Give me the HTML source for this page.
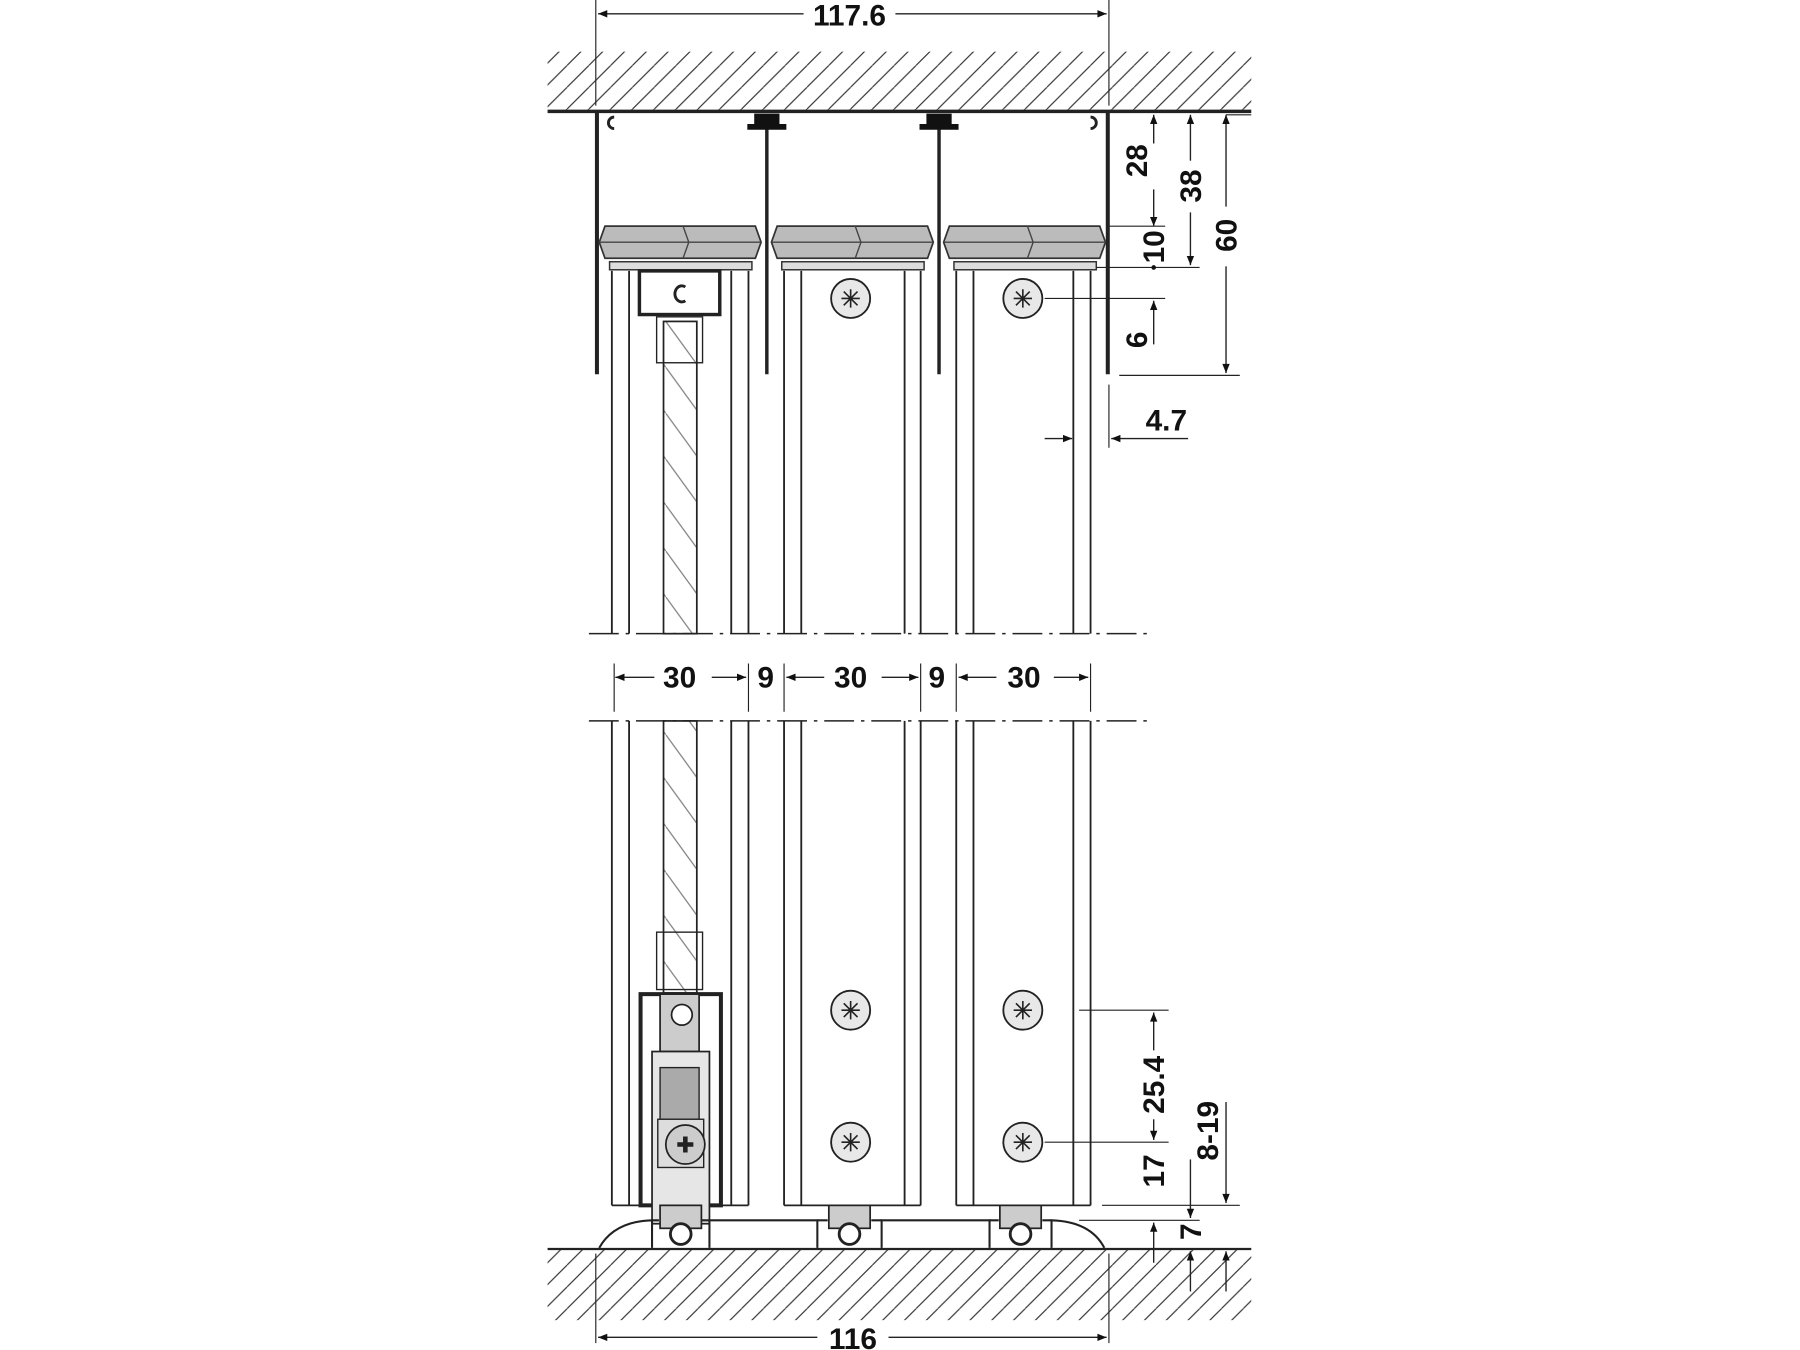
<!DOCTYPE html>
<html><head><meta charset="utf-8"><style>html,body{margin:0;padding:0;background:#fff}svg{display:block}</style></head><body>
<svg width="1800" height="1350" viewBox="0 0 1568 1176" preserveAspectRatio="none" xmlns="http://www.w3.org/2000/svg" font-family="Liberation Sans, Arial, sans-serif" font-weight="bold" font-size="26" fill="none" stroke="#222">
<defs>
<pattern id="h" width="19" height="19" patternUnits="userSpaceOnUse">
<line x1="0" y1="19" x2="19" y2="0" stroke="#333" stroke-width="1"/>
<line x1="-19" y1="19" x2="0" y2="0" stroke="#333" stroke-width="1"/>
<line x1="19" y1="19" x2="38" y2="0" stroke="#333" stroke-width="1"/>
</pattern>
<pattern id="g" width="29" height="40" patternUnits="userSpaceOnUse">
<line x1="0" y1="0" x2="29" y2="40" stroke="#777" stroke-width="1"/>
</pattern>
<marker id="a" viewBox="0 0 10 10" refX="10" refY="5" markerWidth="20" markerHeight="8" markerUnits="userSpaceOnUse" orient="auto"><path d="M0,1 L10,5 L0,9 Z" fill="#111" stroke="none"/></marker>
</defs>
<rect x="477" y="45" width="613" height="52" fill="url(#h)" stroke="none"/>
<line x1="477" y1="97" x2="1090" y2="97" stroke-width="3"/>
<rect x="477" y="1088" width="613" height="62" fill="url(#h)" stroke="none"/>
<line x1="477" y1="1088" x2="1090" y2="1088" stroke-width="2"/>
<line x1="519" y1="0" x2="519" y2="92" stroke-width="1"/>
<line x1="966" y1="0" x2="966" y2="92" stroke-width="1"/>
<line x1="700" y1="12" x2="521" y2="12" stroke-width="1.2" marker-end="url(#a)"/>
<line x1="780" y1="12" x2="964" y2="12" stroke-width="1.2" marker-end="url(#a)"/>
<text x="740" y="22" text-anchor="middle" fill="#111" stroke="none">117.6</text>
<line x1="519" y1="1092" x2="519" y2="1170" stroke-width="1"/>
<line x1="966" y1="1092" x2="966" y2="1170" stroke-width="1"/>
<line x1="712" y1="1165" x2="521" y2="1165" stroke-width="1.2" marker-end="url(#a)"/>
<line x1="774" y1="1165" x2="964" y2="1165" stroke-width="1.2" marker-end="url(#a)"/>
<text x="743" y="1175" text-anchor="middle" fill="#111" stroke="none">116</text>
<g stroke-width="3.5">
<line x1="520" y1="98" x2="520" y2="326"/><line x1="965" y1="98" x2="965" y2="326"/>
<line x1="668" y1="112" x2="668" y2="326" stroke-width="3"/><line x1="818" y1="112" x2="818" y2="326" stroke-width="3"/>
</g>
<path d="M657,99 h22 v9 h6 v5 h-34 v-5 h6z" fill="#111" stroke="none"/>
<path d="M807,99 h22 v9 h6 v5 h-34 v-5 h6z" fill="#111" stroke="none"/>
<path d="M535,102 a5,5 0 1 0 0,10" stroke-width="2.5"/><path d="M950,102 a5,5 0 1 1 0,10" stroke-width="2.5"/>
<g fill="#bbb" stroke="#333" stroke-width="1.5">
<path d="M527,197 H658 L663,211 L658,225 H527 L522,211 Z"/>
<path d="M677,197 H808 L813,211 L808,225 H677 L672,211 Z"/>
<path d="M827,197 H958 L963,211 L958,225 H827 L822,211 Z"/>
</g>
<g stroke="#444" stroke-width="1.2">
<path d="M522,211 H663 M595,197 L600,211 L595,225 M672,211 H813 M745,197 L750,211 L745,225 M822,211 H963 M895,197 L900,211 L895,225"/>
</g>
<g fill="#ddd" stroke="#333" stroke-width="1.3">
<rect x="531" y="228" width="124" height="7"/><rect x="681" y="228" width="124" height="7"/><rect x="831" y="228" width="124" height="7"/>
</g>
<g stroke-width="1.6">
<path d="M533,236V552 M548,236V552 M637,236V552 M652,236V552 M683,236V552 M698,236V552 M788,236V552 M802,236V552 M833,236V552 M848,236V552 M935,236V552 M950,236V552"/>
<path d="M533,628V1050 M548,628V1050 M637,628V1050 M652,628V1050 M683,628V1050 M698,628V1050 M788,628V1050 M802,628V1050 M833,628V1050 M848,628V1050 M935,628V1050 M950,628V1050"/>
<path d="M533,1050H652 M683,1050H802 M833,1050H950"/>
</g>
<rect x="578" y="280" width="29" height="272" fill="url(#g)" stroke-width="1.5"/>
<rect x="578" y="628" width="29" height="237" fill="url(#g)" stroke-width="1.5"/>
<rect x="557" y="236" width="70" height="38" fill="#fff" stroke-width="3"/>
<path d="M597,250 a6,7 0 1 0 0,12" stroke-width="2.5"/>
<rect x="572" y="276" width="40" height="40" fill="none" stroke-width="1.2"/>
<rect x="572" y="812" width="40" height="50" fill="none" stroke-width="1.2"/>
<rect x="558" y="866" width="70" height="184" fill="none" stroke-width="3.5"/>
<rect x="575" y="866" width="34" height="50" fill="#ccc" stroke-width="1.5"/>
<circle cx="594" cy="884" r="9" fill="#fff" stroke-width="1.5"/>
<rect x="568" y="916" width="50" height="150" fill="#e6e6e6" stroke-width="1.5"/>
<rect x="575" y="930" width="34" height="45" fill="#aaa" stroke-width="1.2"/>
<rect x="573" y="975" width="40" height="42" fill="#ddd" stroke-width="1.2"/>
<circle cx="597" cy="997" r="17" fill="#ccc" stroke-width="1.5"/>
<path d="M590,997h14M597,990v14" stroke-width="4"/>
<g fill="#ccc" stroke-width="1.5">
<rect x="575" y="1050" width="36" height="20"/><rect x="722" y="1050" width="36" height="20"/><rect x="871" y="1050" width="36" height="20"/>
</g>
<g stroke-width="2.5" fill="#fff">
<circle cx="593" cy="1075" r="9"/><circle cx="740" cy="1075" r="9"/><circle cx="889" cy="1075" r="9"/>
</g>
<g stroke-width="1.8">
<path d="M522,1087 Q535,1064 568,1063 V1087"/>
<path d="M962,1087 Q950,1064 916,1063 V1087"/>
<path d="M618,1087 V1063 H712 V1087 M768,1087 V1063 H862 V1087"/>
<path d="M568,1063 H574 M611,1063 H618 M712,1063 H721 M759,1063 H768 M862,1063 H870 M908,1063 H916"/>
</g>
<g fill="#e8e8e8" stroke-width="1.6">
<circle cx="741" cy="260" r="17"/><circle cx="891" cy="260" r="17"/><circle cx="741" cy="880" r="17"/><circle cx="891" cy="880" r="17"/><circle cx="741" cy="995" r="17"/><circle cx="891" cy="995" r="17"/>
</g>
<g stroke-width="1.4">
<path d="M733,260h16M741,252v16M735,254l12,12M747,254l-12,12"/>
<path d="M883,260h16M891,252v16M885,254l12,12M897,254l-12,12"/>
<path d="M733,880h16M741,872v16M735,874l12,12M747,874l-12,12"/>
<path d="M883,880h16M891,872v16M885,874l12,12M897,874l-12,12"/>
<path d="M733,995h16M741,987v16M735,989l12,12M747,989l-12,12"/>
<path d="M883,995h16M891,987v16M885,989l12,12M897,989l-12,12"/>
</g>
<g stroke-width="1.3" stroke-dasharray="26,6,3,6">
<line x1="513" y1="552" x2="1005" y2="552"/><line x1="513" y1="628" x2="1005" y2="628"/>
</g>
<g stroke-width="1">
<path d="M535,578V620 M652,578V620 M683,578V620 M802,578V620 M833,578V620 M950,578V620"/>
</g>
<g stroke-width="1.2">
<line x1="570" y1="590" x2="536" y2="590" marker-end="url(#a)"/><line x1="620" y1="590" x2="650" y2="590" marker-end="url(#a)"/>
<line x1="718" y1="590" x2="685" y2="590" marker-end="url(#a)"/><line x1="768" y1="590" x2="800" y2="590" marker-end="url(#a)"/>
<line x1="868" y1="590" x2="835" y2="590" marker-end="url(#a)"/><line x1="918" y1="590" x2="948" y2="590" marker-end="url(#a)"/>
</g>
<g fill="#111" stroke="none" text-anchor="middle">
<text x="592" y="599">30</text><text x="667" y="599">9</text><text x="741" y="599">30</text><text x="816" y="599">9</text><text x="892" y="599">30</text>
</g>
<g stroke-width="1">
<path d="M966,197H1015 M955,233H1045 M975,327H1080 M910,260H1015 M966,335V390 M1068,100H1090"/>
<path d="M940,880H1018 M910,995H1018 M940,1063H1045 M960,1050H1080"/>
</g>
<g stroke-width="1.2">
<line x1="1005" y1="125" x2="1005" y2="100" marker-end="url(#a)"/><line x1="1005" y1="165" x2="1005" y2="197" marker-end="url(#a)"/>
<line x1="1037" y1="140" x2="1037" y2="100" marker-end="url(#a)"/><line x1="1037" y1="185" x2="1037" y2="231" marker-end="url(#a)"/>
<line x1="1068" y1="180" x2="1068" y2="100" marker-end="url(#a)"/><line x1="1068" y1="232" x2="1068" y2="325" marker-end="url(#a)"/>
<line x1="1005" y1="300" x2="1005" y2="262" marker-end="url(#a)"/>
<line x1="910" y1="382" x2="934" y2="382" marker-end="url(#a)"/><line x1="1035" y1="382" x2="968" y2="382" marker-end="url(#a)"/>
<line x1="1005" y1="915" x2="1005" y2="882" marker-end="url(#a)"/><line x1="1005" y1="975" x2="1005" y2="993" marker-end="url(#a)"/>
<line x1="1005" y1="1100" x2="1005" y2="1065" marker-end="url(#a)"/>
<line x1="1068" y1="960" x2="1068" y2="1048" marker-end="url(#a)"/>
<line x1="1037" y1="1010" x2="1037" y2="1061" marker-end="url(#a)"/>
<line x1="1037" y1="1125" x2="1037" y2="1090" marker-end="url(#a)"/><line x1="1068" y1="1125" x2="1068" y2="1090" marker-end="url(#a)"/>
</g>
<circle cx="1005" cy="233" r="2" fill="#111" stroke="none"/>
<g fill="#111" stroke="none" text-anchor="middle">
<text transform="translate(999,140) rotate(-90)">28</text>
<text transform="translate(1046,162) rotate(-90)">38</text>
<text transform="translate(1077,205) rotate(-90)">60</text>
<text transform="translate(1014,215) rotate(-90)">10</text>
<text transform="translate(999,296) rotate(-90)">6</text>
<text x="1016" y="375">4.7</text>
<text transform="translate(1014,945) rotate(-90)">25.4</text>
<text transform="translate(1014,1020) rotate(-90)">17</text>
<text transform="translate(1061,985) rotate(-90)">8-19</text>
<text transform="translate(1046,1073) rotate(-90)">7</text>
</g>
</svg>
</body></html>
